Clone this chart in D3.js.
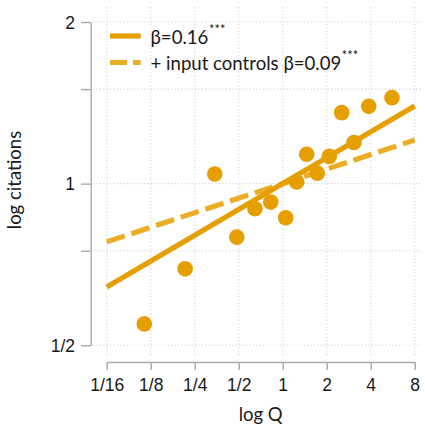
<!DOCTYPE html>
<html>
<head>
<meta charset="utf-8">
<script src="https://cdn.jsdelivr.net/npm/d3@7"></script>
<style>
  html, body { margin: 0; padding: 0; background: #fff; }
  svg { display: block; font-family: Lato, "Noto Sans", sans-serif; }
</style>
</head>
<body>
<svg id="chart" width="425" height="427"></svg>
<script>
// Quality (Q) vs. citations, both on log2 scales
const qValues        = [0.113, 0.215, 0.343, 0.485, 0.646, 0.828, 1.048, 1.247, 1.459, 1.725, 2.084, 2.533, 3.075, 3.877, 5.595];
const citationValues = [0.548, 0.694, 1.042, 0.795, 0.898, 0.924, 0.864, 1.007, 1.134, 1.046, 1.124, 1.356, 1.193, 1.393, 1.446];

// Fitted slopes (log-log), both fits pass through (1, 1)
const fitNames  = ["β=0.16", "+ input controls β=0.09"];
const fitSlopes = [0.16, 0.09];
const fitIntercepts = [1.0, 1.0];
const fitDashes = [null, "19,7"];

const xTickValues = [1/16, 1/8, 1/4, 1/2, 1, 2, 4, 8];
const xTickLabels = ["1/16", "1/8", "1/4", "1/2", "1", "2", "4", "8"];
const yTickValues = [0.5, 0.75, 1, 1.5, 2];
const yTickLabels = ["1/2", "", "1", "", "2"];

const orange = "#E69F00";
const axisGrey = "#aaaaaa";
const gridGrey = "#d4d4d4";
const textColor = "#1a1a1a";

const svg = d3.select("#chart");

const x = d3.scaleLog().base(2).domain([1/16, 8]).range([106.7, 414.7]);
const y = d3.scaleLog().base(2).domain([0.5, 2]).range([345.3, 22]);

const panel = { left: 93, right: 423, top: 7, bottom: 356 };

// grid
const grid = svg.append("g");
grid.selectAll("line.v").data(xTickValues).join("line")
  .attr("x1", d => x(d)).attr("x2", d => x(d))
  .attr("y1", panel.top).attr("y2", panel.bottom)
  .attr("stroke", gridGrey).attr("stroke-width", 1.1)
  .attr("stroke-dasharray", "1.2,2.2");
grid.selectAll("line.h").data(yTickValues).join("line")
  .attr("y1", d => y(d)).attr("y2", d => y(d))
  .attr("x1", panel.left).attr("x2", panel.right)
  .attr("stroke", gridGrey).attr("stroke-width", 1.1)
  .attr("stroke-dasharray", "1.2,2.2");

// x axis
const xAxis = svg.append("g")
  .attr("transform", "translate(0,362)")
  .call(d3.axisBottom(x).tickValues(xTickValues)
    .tickFormat((d, i) => xTickLabels[i])
    .tickSize(8).tickSizeOuter(0).tickPadding(8));
xAxis.select(".domain").attr("stroke", axisGrey).attr("stroke-width", 1.4);
xAxis.selectAll(".tick line").attr("stroke", axisGrey).attr("stroke-width", 1.4);
xAxis.selectAll(".tick text")
  .attr("fill", textColor).attr("font-size", 17.5)
  .attr("y", 28.7).attr("dy", 0);

// y axis
const yAxis = svg.append("g")
  .attr("transform", "translate(90.7,0)")
  .call(d3.axisLeft(y).tickValues(yTickValues)
    .tickFormat((d, i) => yTickLabels[i])
    .tickSize(9.7).tickSizeOuter(0).tickPadding(6));
yAxis.select(".domain").attr("stroke", axisGrey).attr("stroke-width", 1.4);
yAxis.selectAll(".tick line").attr("stroke", axisGrey).attr("stroke-width", 1.4);
yAxis.selectAll(".tick text")
  .attr("fill", textColor).attr("font-size", 17.5)
  .attr("dy", "0.36em");

// axis titles
svg.append("text")
  .attr("x", (x.range()[0] + x.range()[1]) / 2).attr("y", 421)
  .attr("text-anchor", "middle").attr("font-size", 18.5)
  .attr("fill", textColor).text("log Q");
svg.append("text")
  .attr("transform", "translate(20.5,180) rotate(-90)")
  .attr("text-anchor", "middle").attr("font-size", 18.5)
  .attr("fill", textColor).text("log citations");

// fitted lines
const [q0, q1] = x.domain();
fitSlopes.forEach((b, i) => {
  const f = q => fitIntercepts[i] * Math.pow(q, b);
  svg.append("line")
    .attr("x1", x(q0)).attr("y1", y(f(q0)))
    .attr("x2", x(q1)).attr("y2", y(f(q1)))
    .attr("stroke", orange).attr("stroke-width", 5.2)
    .attr("stroke-opacity", i === 0 ? 1 : 0.85)
    .attr("stroke-dasharray", fitDashes[i]);
});

// points
svg.append("g").selectAll("circle")
  .data(d3.zip(qValues, citationValues)).join("circle")
  .attr("cx", d => x(d[0])).attr("cy", d => y(d[1]))
  .attr("r", 7.8).attr("fill", orange);

// legend
const legend = svg.append("g");
const legendRows = [36, 62.5];
fitNames.forEach((name, i) => {
  const ly = legendRows[i];
  legend.append("line")
    .attr("x1", 110).attr("x2", 140.7).attr("y1", ly).attr("y2", ly)
    .attr("stroke", orange).attr("stroke-width", 5.2)
    .attr("stroke-opacity", i === 0 ? 1 : 0.85)
    .attr("stroke-dasharray", i === 0 ? null : "17,6");
  const t = legend.append("text")
    .attr("x", 150.5).attr("y", ly + 7.5)
    .attr("font-size", 18.6).attr("fill", textColor);
  t.append("tspan").text(name);
  t.append("tspan").attr("dy", -10).attr("dx", 0.5).attr("font-size", 13).text("***");
});
</script>
</body>
</html>
